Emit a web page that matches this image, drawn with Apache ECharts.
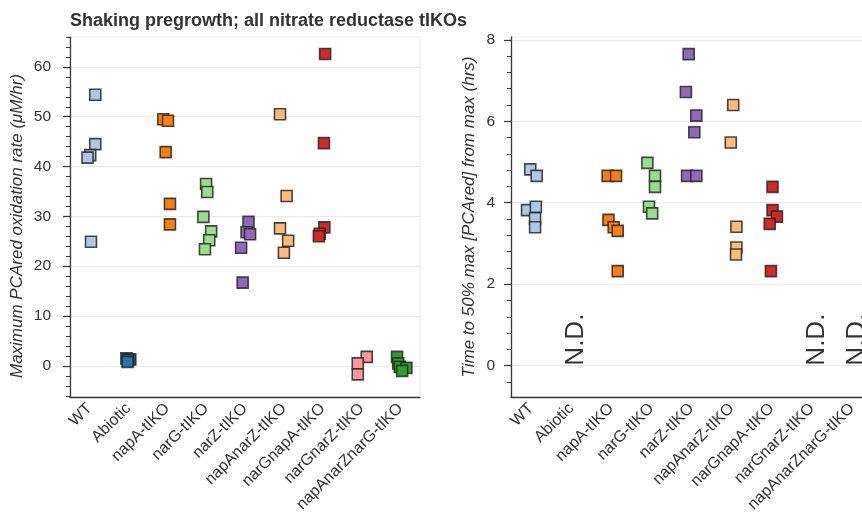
<!DOCTYPE html>
<html>
<head>
<meta charset="utf-8">
<script src="https://cdn.jsdelivr.net/npm/echarts@6/dist/echarts.min.js"></script>
<style>
  html, body { margin: 0; padding: 0; background: #ffffff; overflow: hidden; }
  /* the right-hand panel runs past the visible window edge, as in the figure */
  #chart { width: 880px; height: 527px; }
</style>
</head>
<body>
<div id="chart"></div>
<script>
// Strains, in plotting order, and their palette colours
const strains = ['WT', 'Abiotic', 'napA-tIKO', 'narG-tIKO', 'narZ-tIKO',
  'napAnarZ-tIKO', 'narGnapA-tIKO', 'narGnarZ-tIKO', 'napAnarZnarG-tIKO'];
const strainColors = ['#aec7e8', '#1f77b4', '#ff7f0e', '#98df8a', '#9467bd',
  '#ffbb78', '#d62728', '#ff9896', '#2ca02c'];

// Maximum PCAred oxidation rate (uM/hr), replicates per strain
const rateValues = [
  [54.4, 44.5, 42.3, 41.8, 24.9],
  [1.5, 1.3, 1.2, 0.8],
  [49.5, 49.2, 42.9, 32.5, 28.4],
  [36.5, 34.9, 29.9, 27.0, 25.2, 23.4],
  [28.9, 26.8, 26.4, 23.7, 16.7],
  [50.5, 34.1, 27.6, 25.1, 22.7],
  [62.6, 44.7, 27.8, 26.5, 26.0],
  [1.8, 0.5, -1.7],
  [1.8, 0.5, -0.2, -0.4, -1.0]
];
// Strip-plot jitter of each replicate, in category widths
const rateJitter = [
  [0.15, 0.15, 0.02, -0.05, 0.04],
  [-0.05, 0.05, 0.0, -0.02],
  [-0.1, 0.02, -0.04, 0.07, 0.07],
  [0.0, 0.03, -0.07, 0.13, 0.08, -0.03],
  [0.09, 0.04, 0.13, -0.1, -0.06],
  [-0.1, 0.07, -0.1, 0.11, 0.0],
  [0.06, 0.03, 0.04, -0.08, -0.1],
  [0.13, -0.1, -0.1],
  [-0.09, -0.06, -0.02, 0.15, 0.04]
];

// Time to 50% of max [PCAred] from max (hrs); empty = not detected
const timeValues = [
  [4.82, 4.66, 3.82, 3.90, 3.62, 3.40],
  [],
  [4.66, 4.66, 3.58, 3.40, 3.31, 2.32],
  [4.98, 4.66, 4.39, 3.90, 3.74],
  [7.65, 6.72, 6.14, 5.73, 4.66, 4.66],
  [6.40, 5.48, 3.41, 2.90, 2.73],
  [4.39, 3.82, 3.66, 3.48, 2.32],
  [],
  []
];
const timeJitter = [
  [-0.02, 0.14, -0.1, 0.12, 0.1, 0.1],
  [],
  [-0.09, 0.12, -0.07, 0.06, 0.16, 0.16],
  [-0.1, 0.09, 0.09, -0.06, 0.02],
  [-0.07, -0.14, 0.12, 0.07, -0.11, 0.12],
  [0.04, -0.02, 0.12, 0.12, 0.11],
  [0.02, 0.02, 0.13, -0.05, -0.02],
  [],
  []
];
const notDetectedText = 'N.D.';

// Axis ranges and tick values
const rateRange = [-6.25, 66];
const rateTicks = [0, 10, 20, 30, 40, 50, 60];
const rateMinorTicks = [-6, -4, -2, 2, 4, 6, 8, 12, 14, 16, 18, 22, 24, 26, 28, 32, 34, 36, 38,
  42, 44, 46, 48, 52, 54, 56, 58, 62, 64, 66];
const timeRange = [-0.77, 8.07];
const timeTicks = [0, 2, 4, 6, 8];
const timeMinorTicks = [-0.4, 0.4, 0.8, 1.2, 1.6, 2.4, 2.8, 3.2, 3.6, 4.4, 4.8, 5.2, 5.6,
  6.4, 6.8, 7.2, 7.6];

const titleText = 'Shaking pregrowth; all nitrate reductase tIKOs';
const rateAxisName = 'Maximum PCAred oxidation rate (\u03bcM/hr)';
const timeAxisName = 'Time to 50% max [PCAred] from max (hrs)';

const FONT = '"Liberation Sans", Arial, Helvetica, sans-serif';
const AXIS_DARK = '#3b3b3b';
const GRID_LIGHT = '#e9e9e9';

const chart = echarts.init(document.getElementById('chart'), null, { renderer: 'canvas' });

function categoryAxis(gridIndex) {
  return {
    type: 'category', gridIndex, position: 'bottom', data: strains, boundaryGap: true,
    axisLine: { onZero: false, lineStyle: { color: AXIS_DARK, width: 1.3 } },
    axisTick: { alignWithLabel: true, length: 7, lineStyle: { color: AXIS_DARK, width: 1.3 } },
    axisLabel: { rotate: 45, margin: 9, fontSize: 16, color: '#333', fontFamily: FONT, interval: 0 },
    splitLine: { show: false }, z: 3
  };
}
function positionAxis(gridIndex) {
  return { type: 'value', gridIndex, position: 'bottom', min: -0.5, max: 8.5, show: false,
    axisLine: { onZero: false } };
}
function valueAxis(gridIndex, range, ticks, name, nameGap, namePadding, labelMargin) {
  return {
    type: 'value', gridIndex, position: 'left', min: range[0], max: range[1],
    name, nameLocation: 'middle', nameGap,
    nameTextStyle: { fontSize: 17, fontStyle: 'italic', color: '#333', fontFamily: FONT, padding: namePadding },
    axisLine: { show: true, onZero: false, lineStyle: { color: AXIS_DARK, width: 1.3 } },
    axisTick: { show: true, length: 7, customValues: ticks, lineStyle: { color: AXIS_DARK, width: 1.3 } },
    axisLabel: { customValues: ticks, margin: labelMargin, fontSize: 15.5, color: '#333', fontFamily: FONT },
    splitLine: { show: true, lineStyle: { color: GRID_LIGHT, width: 1.2 } },
    z: 3
  };
}
function minorAxis(gridIndex, range, ticks) {
  return {
    type: 'value', gridIndex, position: 'left', min: range[0], max: range[1],
    axisLine: { show: false, onZero: false },
    axisTick: { show: true, length: 4, customValues: ticks, lineStyle: { color: AXIS_DARK, width: 1.1 } },
    axisLabel: { show: false },
    splitLine: { show: false }, z: 3
  };
}

const series = [];
function addStrip(values, jitter, xAxisIndex, yAxisIndex) {
  values.forEach((vals, i) => {
    if (!vals.length) return;
    series.push({
      name: strains[i], type: 'scatter', xAxisIndex, yAxisIndex,
      symbol: 'rect', symbolSize: 11,
      itemStyle: { color: strainColors[i], borderColor: 'rgba(40,40,40,0.85)', borderWidth: 1.6, opacity: 1 },
      data: vals.map((v, k) => [i + jitter[i][k], v]),
      z: 4
    });
  });
}
addStrip(rateValues, rateJitter, 1, 0);
addStrip(timeValues, timeJitter, 3, 2);

// Strains without a measurable time get an "N.D." marker at the baseline
series.push({
  type: 'scatter', xAxisIndex: 3, yAxisIndex: 2, symbolSize: 0, silent: true,
  data: timeValues.map((vals, i) => (vals.length ? null : [i, 0])).filter(d => d),
  label: {
    show: true, formatter: notDetectedText, position: [0, 0], rotate: 90,
    align: 'left', verticalAlign: 'middle', offset: [0, 5],
    fontSize: 26, color: '#000', fontFamily: FONT
  },
  z: 5
});

chart.setOption({
  animation: false,
  backgroundColor: '#ffffff',
  title: {
    text: titleText, left: 65, top: 7,
    textStyle: { fontSize: 18, fontWeight: 'bold', color: '#333', fontFamily: FONT }
  },
  grid: [
    { left: 70, top: 37, width: 350, height: 360, show: true, borderColor: GRID_LIGHT, borderWidth: 1.2,
      outerBoundsMode: 'none' },
    { left: 511, top: 37, width: 361, height: 360, show: true, borderColor: GRID_LIGHT, borderWidth: 1.2,
      outerBoundsMode: 'none' }
  ],
  xAxis: [categoryAxis(0), positionAxis(0), categoryAxis(1), positionAxis(1)],
  yAxis: [
    valueAxis(0, rateRange, rateTicks, rateAxisName, 44, [0, 18, 0, 0], 19),
    minorAxis(0, rateRange, rateMinorTicks),
    valueAxis(1, timeRange, timeTicks, timeAxisName, 33, 0, 16),
    minorAxis(1, timeRange, timeMinorTicks)
  ],
  series
});
</script>
</body>
</html>
